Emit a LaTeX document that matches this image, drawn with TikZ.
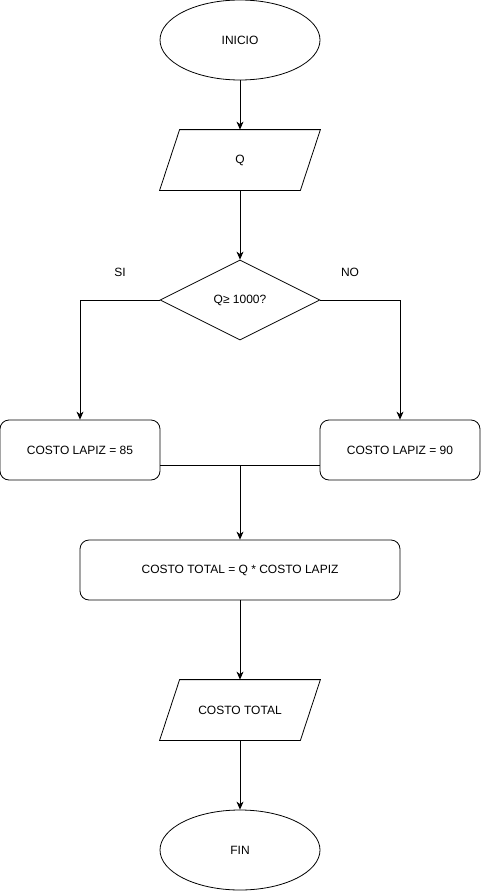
\documentclass[tikz,border=0pt]{standalone}
\usepackage{fontspec}
\setmainfont{Liberation Sans}
\usetikzlibrary{positioning, shapes.geometric, arrows.meta}

\tikzset{every node/.style={font=\fontsize{12}{14}\selectfont}}
\tikzset{terminal/.style={ellipse, draw, minimum width=160pt, minimum height=80pt}}
\tikzset{io/.style={rectangle, minimum width=160pt, minimum height=60pt,
  append after command={\pgfextra{\draw ([xshift=20pt]\tikzlastnode.north west) -- (\tikzlastnode.north east)
    -- ([xshift=-20pt]\tikzlastnode.south east) -- (\tikzlastnode.south west) -- cycle;}}}}
\tikzset{decision/.style={diamond, draw, aspect=2, minimum width=160pt, minimum height=80pt, inner sep=0pt}}
\tikzset{process/.style={rectangle, draw, rounded corners=9pt, minimum height=60pt}}

\begin{document}
\begin{tikzpicture}[line width=0.8pt, node distance=140pt, on grid, >={Stealth[length=8pt,width=7pt,inset=2.5pt]}]
  \useasboundingbox (0,0) rectangle (481pt,-891pt);
  \node[terminal]                (inicio) at (240pt,-40pt)                {INICIO};
  \node[io]                      (q)     [below=120pt of inicio]           {Q};
  \node[decision]                (dec)   [below=140pt of q]                {Q≥ 1000?};
  \node[process, minimum width=160pt] (c85) [below left=150pt and 160pt of dec]  {COSTO LAPIZ = 85};
  \node[process, minimum width=160pt] (c90) [below right=150pt and 160pt of dec] {COSTO LAPIZ = 90};
  \node[process, minimum width=320pt] (total) [below=270pt of dec]         {COSTO TOTAL = Q * COSTO LAPIZ};
  \node[io]                      (out)   [below=140pt of total]            {COSTO TOTAL};
  \node[terminal]                (fin)   [below=140pt of out]              {FIN};
  \node (si) [above left=28pt and 120pt of dec]   {SI};
  \node (no) [above right=28pt and 110pt of dec]  {NO};
  \coordinate (merge) at ([yshift=-15pt]dec |- c85.east);

  \draw[->] (inicio) -- (q);
  \draw[->] (q) -- (dec);
  \draw[->] (dec.west) -| (c85.north);
  \draw[->] (dec.east) -| (c90.north);
  \draw (c85.east |- merge) -- (c90.west |- merge);
  \draw[->] (merge) -- (total);
  \draw[->] (total) -- (out);
  \draw[->] (out) -- (fin);
\end{tikzpicture}
\end{document}
